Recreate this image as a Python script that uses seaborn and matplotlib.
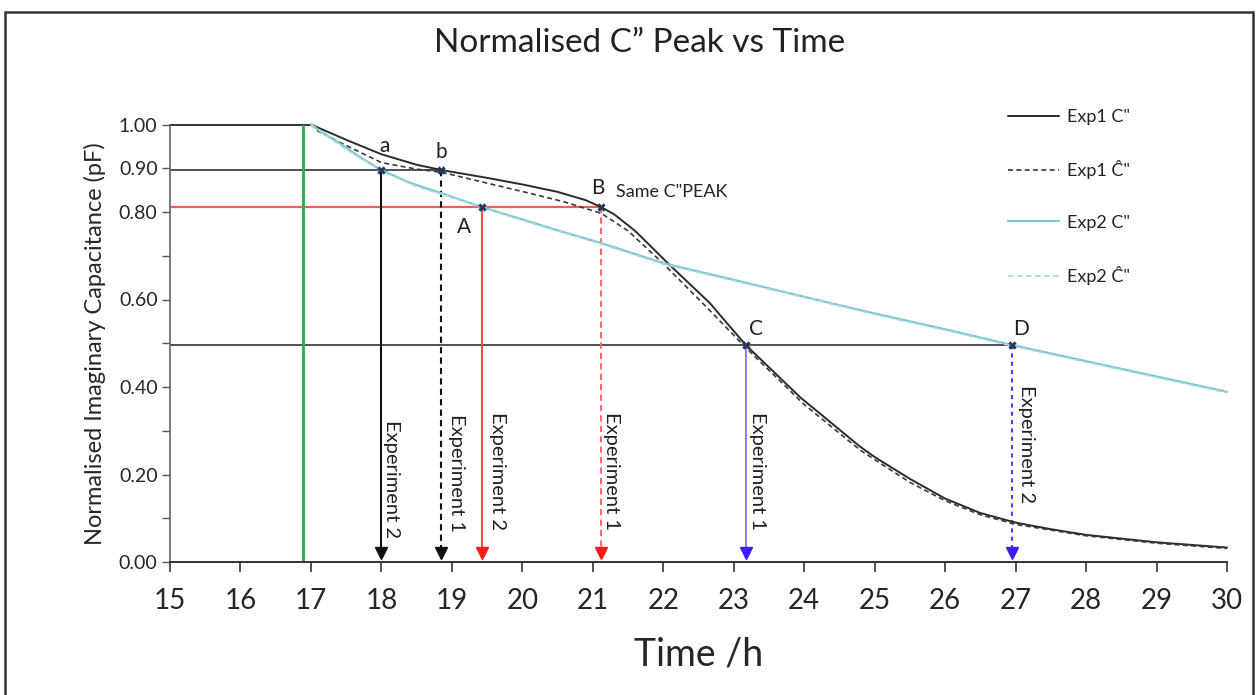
import numpy as np
import pandas as pd
import matplotlib
matplotlib.use("Agg")
import matplotlib.pyplot as plt
from matplotlib.lines import Line2D
from matplotlib.patches import Rectangle
import seaborn as sns

# ---- data -------------------------------------------------------------
exp1_t = [17.0, 17.5, 18.0, 18.5, 18.85, 19.5, 20.0, 20.5, 20.9, 21.12, 21.3, 21.6,
          22.09, 22.66, 23.17, 23.94, 24.79, 25.0, 25.5, 26.0, 26.5, 27.0,
          27.5, 28.0, 29.0, 30.0]
exp1_c = [1.0, 0.965, 0.932, 0.908, 0.896, 0.878, 0.863, 0.846, 0.827, 0.811, 0.795, 0.757,
          0.679, 0.592, 0.496, 0.377, 0.264, 0.240, 0.190, 0.145, 0.112, 0.090,
          0.075, 0.062, 0.045, 0.033]

exp1_fit_t = [17.0, 17.1, 17.5, 18.0, 18.5, 18.85, 19.5, 20.1, 20.6, 21.12, 21.5,
              22.0, 22.6, 23.17, 24.0, 24.8, 25.5, 26.0, 26.5, 27.0, 28.0, 29.0, 30.0]
exp1_fit_c = [1.0, 0.985, 0.952, 0.913, 0.898, 0.891, 0.866, 0.843, 0.823, 0.797, 0.757,
              0.682, 0.585, 0.490, 0.360, 0.255, 0.182, 0.140, 0.108, 0.086, 0.060,
              0.043, 0.031]

exp2_t = [17.0, 17.2, 17.4, 17.7, 18.0, 18.4, 18.85, 19.43, 20.0, 20.5, 21.12,
          22.0, 23.0, 24.08, 25.0, 26.0, 26.95, 28.0, 29.0, 30.0]
exp2_c = [1.0, 0.978, 0.958, 0.925, 0.896, 0.867, 0.843, 0.811, 0.783, 0.758, 0.729,
          0.683, 0.645, 0.603, 0.568, 0.532, 0.496, 0.459, 0.424, 0.389]

exp2_fit_t = [17.0, 17.3, 17.6, 18.0, 18.5, 19.0, 19.43, 20.0, 20.6, 21.12, 22.0,
              23.0, 24.0, 25.0, 26.0, 26.95, 28.0, 29.0, 30.0]
exp2_fit_c = [1.0, 0.965, 0.933, 0.894, 0.858, 0.834, 0.810, 0.781, 0.752, 0.727, 0.681,
              0.643, 0.605, 0.566, 0.530, 0.494, 0.457, 0.422, 0.387]

series_names = ['Exp1 C"', 'Exp1 \u0108"', 'Exp2 C"', 'Exp2 \u0108"']

# marked points (a/b, A/B, C/D) and their levels
level_90 = 0.896
level_81 = 0.811
level_50 = 0.496
t_a, t_b = 18.0, 18.85
t_A, t_B = 19.43, 21.12
t_C, t_D = 23.17, 26.95
t_start = 16.89

y_ticks = [0.0, 0.1, 0.2, 0.3, 0.4, 0.5, 0.6, 0.7, 0.8, 0.9, 1.0]
y_labelled = [0.0, 0.2, 0.4, 0.6, 0.8, 0.9, 1.0]
x_ticks = list(range(15, 31))

# ---- styling ----------------------------------------------------------
sns.set_theme(style="ticks")
plt.rcParams['font.family'] = ['Lato', 'DejaVu Sans']
plt.rcParams['text.color'] = '#222222'

frames = []
for name, t, c in [(series_names[0], exp1_t, exp1_c),
                   (series_names[1], exp1_fit_t, exp1_fit_c),
                   (series_names[2], exp2_t, exp2_c),
                   (series_names[3], exp2_fit_t, exp2_fit_c)]:
    frames.append(pd.DataFrame({'time': t, 'value': c, 'series': name}))
df = pd.concat(frames, ignore_index=True)

colors = {series_names[0]: '#2b2b2b', series_names[1]: '#3a3a3a',
          series_names[2]: '#7ec6cf', series_names[3]: '#a6dbe1'}
widths = {series_names[0]: 1.4, series_names[1]: 1.2,
          series_names[2]: 1.6, series_names[3]: 1.3}
dash = {series_names[0]: '-', series_names[1]: (0, (3, 2)),
        series_names[2]: '-', series_names[3]: (0, (3, 2))}

fig = plt.figure(figsize=(12.58, 6.95), dpi=100)
ax = fig.add_axes([170 / 1258, 1 - 562 / 695, (1227 - 170) / 1258, (562 - 124.5) / 695])

# reference guide lines
ax.plot([15, 17.0], [1.0, 1.0], color='#222222', lw=1.3, clip_on=False, zorder=2)
ax.plot([15, t_b], [level_90, level_90], color='#333333', lw=1.2, zorder=2)
ax.plot([15, t_B], [level_81, level_81], color='#ff5a5a', lw=1.6, zorder=2)
ax.plot([15, t_D], [level_50, level_50], color='#333333', lw=1.2, zorder=2)
ax.plot([t_start, t_start], [0, 1.0], color='#1fae4a', lw=2.0, zorder=2)

for name in series_names:
    sub = df[df['series'] == name]
    sns.lineplot(data=sub, x='time', y='value', ax=ax, color=colors[name],
                 lw=widths[name], linestyle=dash[name], sort=False,
                 estimator=None, legend=False, zorder=3, clip_on=False)

# vertical drop arrows
arrows = [
    (t_a, level_90, '#111111', '#111111', '-', 'Experiment 2', 18.14, 0.325),
    (t_b, level_90, '#111111', '#111111', (0, (3, 2)), 'Experiment 1', 19.07, 0.338),
    (t_A, level_81, '#ff4a4a', '#ff1a1a', '-', 'Experiment 2', 19.65, 0.343),
    (t_B, level_81, '#ff6a6a', '#ff1a1a', (0, (3, 2)), 'Experiment 1', 21.27, 0.343),
    (t_C, level_50, '#8c82ff', '#3a1fff', '-', 'Experiment 1', 23.34, 0.343),
    (t_D, level_50, '#4a3dff', '#3a1fff', (0, (2, 2)), 'Experiment 2', 27.16, 0.405),
]
for x, top, lc, hc, ls, label, tx, ty in arrows:
    ax.plot([x, x], [top, 0.025], color=lc, lw=1.5, linestyle=ls, zorder=2)
    ax.plot([x], [0.021], marker='v', ms=9, color=hc, mec=hc, zorder=4, clip_on=False)
    ax.text(tx, ty, label, rotation=270, ha='center', va='top', fontsize=14.5,
            color='#222222', zorder=5)

# marked points
pts_x = [t_a, t_b, t_A, t_B, t_C, t_D]
pts_y = [level_90, level_90, level_81, level_81, level_50, level_50]
ax.scatter(pts_x, pts_y, marker='X', s=36, color='#1f3a5c', zorder=6, linewidths=0)

ax.text(18.05, 0.951, 'a', fontsize=15, ha='center', va='center')
ax.text(18.85, 0.937, 'b', fontsize=15, ha='center', va='center')
ax.text(21.07, 0.855, 'B', fontsize=15, ha='center', va='center')
ax.text(21.33, 0.846, 'Same C"PEAK', fontsize=13, ha='left', va='center')
ax.text(19.17, 0.766, 'A', fontsize=15, ha='center', va='center')
ax.text(23.32, 0.532, 'C', fontsize=15, ha='center', va='center')
ax.text(27.08, 0.532, 'D', fontsize=15, ha='center', va='center')

# axes
ax.set_xlim(15, 30)
ax.set_ylim(0, 1.0)
ax.set_xticks(x_ticks)
ax.set_xticklabels([str(v) for v in x_ticks], fontsize=20)
ax.set_yticks(y_ticks)
ax.set_yticklabels([f'{v:.2f}' if any(abs(v - w) < 1e-9 for w in y_labelled) else ''
                    for v in y_ticks], fontsize=14)
ax.tick_params(axis='x', direction='out', length=7, width=1.2, color='#333333', pad=12)
ax.tick_params(axis='y', direction='out', length=6, width=1.0, color='#555555', pad=3)
for side in ['top', 'right']:
    ax.spines[side].set_visible(False)
ax.spines['bottom'].set_color('#333333')
ax.spines['bottom'].set_linewidth(1.4)
ax.spines['left'].set_color('#666666')
ax.spines['left'].set_linewidth(1.2)
ax.set_xlabel('Time /h', fontsize=27, labelpad=16)
ax.set_ylabel('Normalised Imaginary Capacitance (pF)', fontsize=17, labelpad=9)
ax.set_facecolor('white')

fig.text(640 / 1258, 1 - 43 / 695, 'Normalised C\u201d Peak vs Time', fontsize=24,
         ha='center', va='center')

# legend
handles = [Line2D([], [], color=colors[n], lw=widths[n], linestyle=dash[n]) for n in series_names]
fig.legend(handles, series_names, loc='upper left',
           bbox_to_anchor=(992 / 1258, 1 - 93 / 695), frameon=False, fontsize=13,
           handlelength=2.8, labelspacing=1.95, handletextpad=0.45)

# outer chart border
fig.patches.append(Rectangle((5 / 1258, -0.02), 1248 / 1258, 1.02 - 12 / 695,
                             transform=fig.transFigure, fill=False,
                             edgecolor='#333333', lw=1.8))

fig.savefig('out.png', dpi=100, facecolor='white')
